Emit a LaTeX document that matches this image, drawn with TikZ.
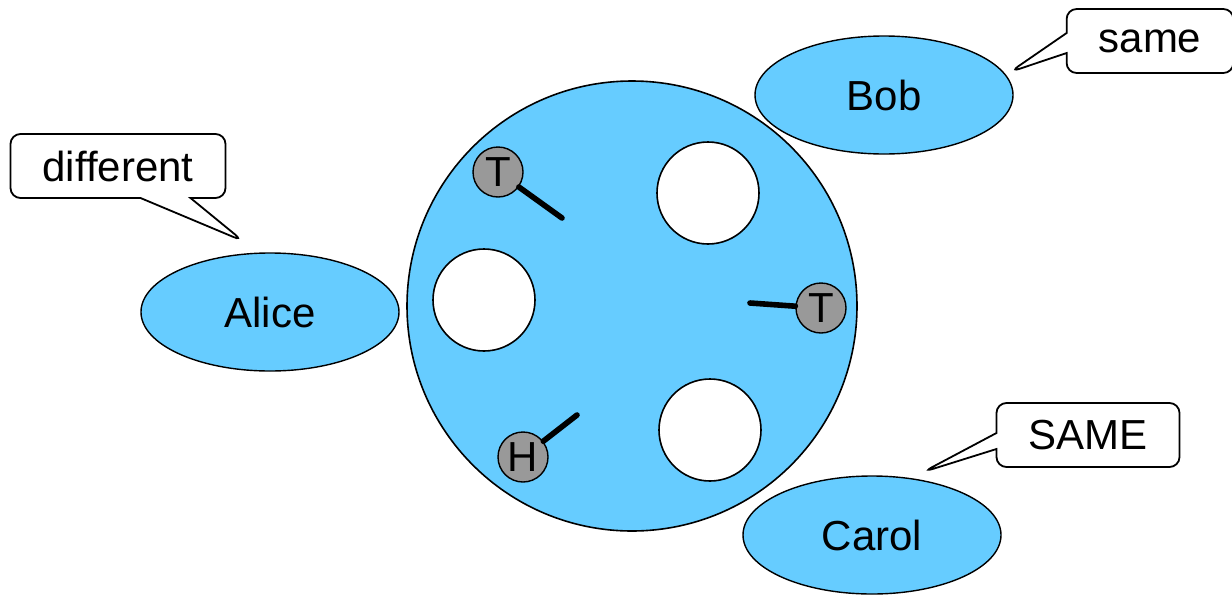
\documentclass[tikz,border=0pt]{standalone}
\usepackage{fontspec}
\setmainfont{Liberation Sans}
\usetikzlibrary{shapes.geometric, shapes.callouts}
\definecolor{skyfill}{HTML}{66CCFF}
\definecolor{coingray}{HTML}{999999}

\begin{document}
\begin{tikzpicture}[
    x=0.5pt, y=-0.5pt,
    font=\fontsize{21}{25}\selectfont,
    person/.style={ellipse, draw=black, line width=0.7pt, fill=skyfill, inner sep=0pt, minimum width=129pt, minimum height=59pt},
    hole/.style={circle, draw=black, line width=0.8pt, fill=white, inner sep=0pt, minimum size=51pt},
    coin/.style={circle, draw=black, line width=0.7pt, fill=coingray, inner sep=0pt, minimum size=25pt},
    stick/.style={line width=2.8pt, line cap=round},
    bubble/.style={rectangle callout, draw=black, line width=0.9pt, fill=white, rounded corners=5pt, inner xsep=16pt, inner ysep=0pt, minimum height=32pt}
]
\useasboundingbox (0,0) rectangle (1232,595);

% the round table
\node[circle, draw=black, line width=0.8pt, fill=skyfill, inner sep=0pt, minimum size=225pt] (table) at (632,306) {};

\node[hole] (holeNE) at (708,193) {};
\node[hole] (holeW) at (484,300) {};
\node[hole] (holeSE) at (710,430) {};

% coins with their sticks
\node[coin] (coinNW) at (498,172) {T};
\node[coin] (coinE) at (821,308) {T};
\node[coin] (coinSW) at (523,457) {H};
\coordinate (stickNW) at (562,218);
\coordinate (stickE) at (750,303);
\coordinate (stickSW) at (577,415);
\draw[stick] (stickNW) -- (coinNW);
\draw[stick] (stickE) -- (coinE);
\draw[stick] (stickSW) -- (coinSW);

% players
\node[person] (alice) at (270,312) {Alice};
\node[person] (bob) at (884,95) {Bob};
\node[person] (carol) at (872,535) {Carol};

% what they say
\node[bubble, callout absolute pointer={(243,241)}, callout pointer width=25pt] (diffnote) at (118,166) {different};
\node[bubble, callout absolute pointer={(1010,72)}, callout pointer width=10pt] (samenote) at (1150,41) {same};
\node[bubble, callout absolute pointer={(923,472)}, callout pointer width=8pt] (capsnote) at (1088,435) {SAME};
\end{tikzpicture}
\end{document}
